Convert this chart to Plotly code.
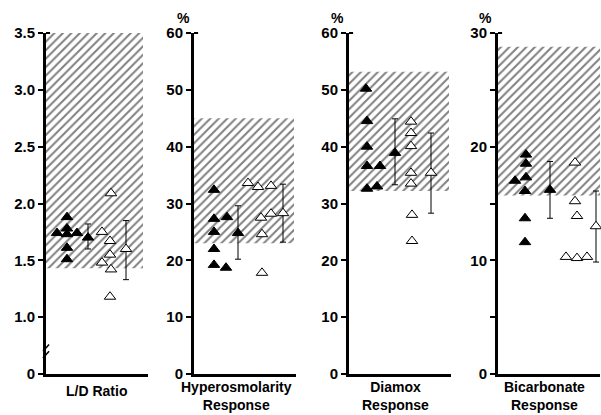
import plotly.graph_objects as go

# ---------------- data ----------------
PANEL_LABELS = ["L/D Ratio", "Hyperosmolarity<br>Response", "Diamox<br>Response", "Bicarbonate<br>Response"]

# normal ranges (hatched)
NORMAL_LO = [1.43, 23.0, 32.2, 15.7]
NORMAL_HI = [3.5, 45.0, 53.2, 28.8]

# L/D ratio
LD_FILLED = [1.88, 1.78, 1.74, 1.73, 1.74, 1.61, 1.51]
LD_FILLED_POS = [21, 21, 11, 21, 31, 21, 21]
LD_OPEN = [2.09, 1.75, 1.67, 1.55, 1.48, 1.42, 1.18]
LD_OPEN_POS = [65, 56, 64, 64, 56, 65, 64]
LD_MEAN = [1.70, 1.60]
LD_HI = [1.82, 1.85]
LD_LO = [1.60, 1.33]
LD_MEAN_POS = [42, 80]

# Hyperosmolarity response (%)
HYP_FILLED = [32.4, 27.3, 27.6, 25.0, 22.0, 19.2, 18.7]
HYP_FILLED_POS = [20, 20, 33, 20, 20, 20, 32]
HYP_OPEN = [33.6, 32.9, 33.1, 27.5, 28.2, 24.6, 17.8]
HYP_OPEN_POS = [54, 64, 77, 67, 77, 68, 68]
HYP_MEAN = [24.8, 28.3]
HYP_HI = [29.6, 33.4]
HYP_LO = [20.2, 23.2]
HYP_MEAN_POS = [44, 89]

# Diamox response (%)
DIA_FILLED = [50.2, 44.5, 40.0, 36.6, 36.6, 32.6, 33.0]
DIA_FILLED_POS = [17, 18, 18, 18, 31, 18, 28]
DIA_OPEN = [44.4, 42.4, 40.1, 35.4, 33.5, 28.0, 23.4]
DIA_OPEN_POS = [62, 62, 62, 62, 62, 63, 63]
DIA_MEAN = [38.9, 35.4]
DIA_HI = [44.9, 42.4]
DIA_LO = [33.3, 28.3]
DIA_MEAN_POS = [46, 82]

# Bicarbonate response (%)
BIC_FILLED = [19.3, 18.5, 17.0, 17.3, 16.1, 13.7, 11.6]
BIC_FILLED_POS = [28, 28, 17, 28, 27, 27, 27]
BIC_OPEN = [18.6, 15.2, 13.9, 10.3, 10.2, 10.3]
BIC_OPEN_POS = [77, 77, 79, 68, 79, 89]
BIC_MEAN = [16.2, 13.0]
BIC_HI = [18.7, 16.1]
BIC_LO = [13.7, 9.85]
BIC_MEAN_POS = [52, 98]

Y_RANGES = [[0.5, 3.5], [0, 60], [0, 60], [0, 30]]
Y_TICKVALS = [[0.5, 1.0, 1.5, 2.0, 2.5, 3.0, 3.5],
              [0, 10, 20, 30, 40, 50, 60],
              [0, 10, 20, 30, 40, 50, 60],
              [0, 5, 10, 15, 20, 25, 30]]
Y_TICKTEXT = [["0", "1.0", "1.5", "2.0", "2.5", "3.0", "3.5"],
              ["0", "10", "20", "30", "40", "50", "60"],
              ["0", "10", "20", "30", "40", "50", "60"],
              ["0", "", "10", "", "20", "", "30"]]
HATCH_RIGHT = [97, 100, 100, 102]

panels = [
    (LD_FILLED, LD_FILLED_POS, LD_OPEN, LD_OPEN_POS, LD_MEAN, LD_HI, LD_LO, LD_MEAN_POS),
    (HYP_FILLED, HYP_FILLED_POS, HYP_OPEN, HYP_OPEN_POS, HYP_MEAN, HYP_HI, HYP_LO, HYP_MEAN_POS),
    (DIA_FILLED, DIA_FILLED_POS, DIA_OPEN, DIA_OPEN_POS, DIA_MEAN, DIA_HI, DIA_LO, DIA_MEAN_POS),
    (BIC_FILLED, BIC_FILLED_POS, BIC_OPEN, BIC_OPEN_POS, BIC_MEAN, BIC_HI, BIC_LO, BIC_MEAN_POS),
]

# ---------------- layout geometry ----------------
W, H = 601, 415
AXIS_LEFT_PX = [46, 194, 349, 498]
LABEL_CENTER_PX = [96, 236, 395, 544]
PCT_X_PX = [None, 183, 338, 486]
PANEL_W_PX = 102
Y_TOP_PX, Y_BOT_PX = 33, 374

FONT = "Liberation Sans, Arial, Helvetica, sans-serif"

fig = go.Figure()
layout = dict(width=W, height=H, margin=dict(l=0, r=0, t=0, b=0, pad=0, autoexpand=False),
              paper_bgcolor="white", plot_bgcolor="white", showlegend=False,
              font=dict(family=FONT, color="black"))

annotations = []
shapes = []
for i, (fy, fx, oy, ox, m, hi, lo, mx) in enumerate(panels):
    n = "" if i == 0 else str(i + 1)
    xa, ya = "x" + n, "y" + n
    # hatched normal range
    lo_n, hi_n = NORMAL_LO[i], NORMAL_HI[i]
    fig.add_trace(go.Scatter(
        x=[0, HATCH_RIGHT[i], HATCH_RIGHT[i], 0, 0], y=[lo_n, lo_n, hi_n, hi_n, lo_n],
        xaxis=xa, yaxis=ya, mode="lines", fill="toself", line=dict(width=0),
        fillcolor="white",
        fillpattern=dict(shape="/", fgcolor="black", bgcolor="white", size=6, solidity=0.33),
        hoverinfo="skip"))
    # filled triangles
    fig.add_trace(go.Scatter(x=fx, y=fy, xaxis=xa, yaxis=ya, mode="markers", cliponaxis=False,
                             marker=dict(symbol="triangle-up", size=10, color="black",
                                         line=dict(color="black", width=1))))
    # open triangles
    fig.add_trace(go.Scatter(x=ox, y=oy, xaxis=xa, yaxis=ya, mode="markers", cliponaxis=False,
                             marker=dict(symbol="triangle-up", size=10, color="white",
                                         line=dict(color="black", width=1))))
    # group means with error bars
    for k in range(2):
        fig.add_trace(go.Scatter(
            x=[mx[k]], y=[m[k]], xaxis=xa, yaxis=ya, mode="markers", cliponaxis=False,
            error_y=dict(type="data", symmetric=False, array=[hi[k] - m[k]],
                         arrayminus=[m[k] - lo[k]], color="black", thickness=1, width=3),
            marker=dict(symbol="triangle-up", size=10,
                        color="black" if k == 0 else "white",
                        line=dict(color="black", width=1))))

    x0 = AXIS_LEFT_PX[i] / W
    x1 = (AXIS_LEFT_PX[i] + PANEL_W_PX) / W
    layout["xaxis" + n] = dict(domain=[x0, x1], range=[0, PANEL_W_PX], anchor=ya,
                               showline=True, linewidth=3, linecolor="black",
                               showticklabels=False, ticks="", showgrid=False, zeroline=False,
                               automargin=False)
    layout["yaxis" + n] = dict(domain=[(H - Y_BOT_PX) / H, (H - Y_TOP_PX) / H],
                               range=Y_RANGES[i], anchor=xa, automargin=False,
                               showline=True, linewidth=3, linecolor="black",
                               ticks="outside", ticklen=5, tickwidth=2, tickcolor="black",
                               tickvals=Y_TICKVALS[i], ticktext=Y_TICKTEXT[i],
                               tickfont=dict(size=15, family=FONT, weight="bold", color="black"),
                               showgrid=False, zeroline=False)
    # small stub at the top of each y axis
    shapes.append(dict(type="line", xref=xa + " domain", yref=ya + " domain",
                       x0=0, x1=0.04, y0=1, y1=1, line=dict(color="black", width=2)))
    # x label
    two_line = "<br>" in PANEL_LABELS[i]
    annotations.append(dict(xref="paper", yref="paper",
                            x=LABEL_CENTER_PX[i] / W,
                            y=(1 / H) if two_line else (H - 391) / H,
                            yanchor="bottom" if two_line else "middle", xanchor="center",
                            text="<b>" + PANEL_LABELS[i] + "</b>", showarrow=False,
                            borderpad=0,
                            font=dict(size=14, family=FONT, color="black")))
    if PCT_X_PX[i] is not None:
        annotations.append(dict(xref="paper", yref="paper",
                                x=PCT_X_PX[i] / W, y=(H - 18) / H,
                                text="<b>%</b>", showarrow=False, xanchor="center",
                                yanchor="middle",
                                font=dict(size=14, family=FONT, color="black")))

# axis break marks on first panel
brk = 0.68
for dy in (0.0, 0.06):
    shapes.append(dict(type="line", xref="x domain", yref="y",
                       x0=-0.03, x1=0.03, y0=brk - 0.04 + dy, y1=brk + 0.02 + dy,
                       line=dict(color="black", width=1.5)))

layout["annotations"] = annotations
layout["shapes"] = shapes
fig.update_layout(**layout)
fig.write_html("out.html")
